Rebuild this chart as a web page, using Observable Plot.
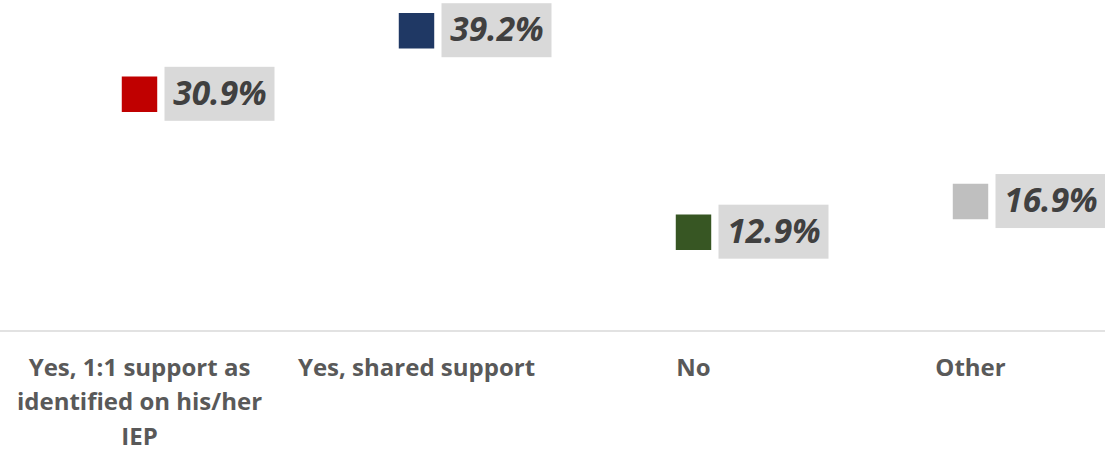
<!DOCTYPE html>
<html>
<head>
<meta charset="utf-8">
<script src="https://cdn.jsdelivr.net/npm/d3@7"></script>
<script src="https://cdn.jsdelivr.net/npm/@observablehq/plot@0.6"></script>
<style>
  html, body { margin: 0; padding: 0; background: #fff; }
</style>
</head>
<body>
<div id="chart"></div>
<script>
const categories = ["Yes, 1:1 support as identified on his/her IEP", "Yes, shared support", "No", "Other"];
const tickLabels = ["Yes, 1:1 support as\nidentified on his/her\nIEP", "Yes, shared support", "No", "Other"];
const values = [30.9, 39.2, 12.9, 16.9];
const colors = ["#c00000", "#1f3864", "#375623", "#bfbfbf"];

const rows = categories.map((c, i) => ({
  category: c,
  value: values[i],
  color: colors[i],
  label: values[i].toFixed(1) + "%",
  tick: tickLabels[i]
}));

const BOX_W = 110, BOX_H = 54, BOX_OFF = 25.5;

const chart = Plot.plot({
  width: 1105,
  height: 453,
  margin: 0,
  style: { fontFamily: "'Open Sans', sans-serif", background: "#fff" },
  x: { type: "point", domain: categories, range: [138.5, 969.5], padding: 0, axis: null },
  y: { domain: [0, 40], range: [330.5, 24.1], axis: null },
  marks: [
    Plot.ruleY([0], { stroke: "#d9d9d9", strokeWidth: 1.5 }),
    Plot.text(rows, {
      x: "category",
      y: () => 0,
      text: "tick",
      lineAnchor: "top",
      dy: 20,
      fontSize: 24,
      fontWeight: "bold",
      fill: "#595959",
      lineHeight: 1.44
    }),
    Plot.dot(rows, {
      x: "category",
      y: "value",
      symbol: "square",
      r: 20,
      fill: "color",
      stroke: "none"
    }),
    Plot.text(rows, {
      x: "category",
      y: "value",
      text: "label",
      dx: 80.5,
      textAnchor: "middle",
      lineAnchor: "middle",
      fontSize: 33.5,
      fontWeight: "bold",
      fontStyle: "italic",
      fill: "#404040",
      render: (index, scales, values, dimensions, context, next) => {
        const g = next(index, scales, values, dimensions, context);
        const wrap = d3.create("svg:g");
        for (const i of index) {
          wrap.append("rect")
            .attr("x", values.x[i] + BOX_OFF)
            .attr("y", values.y[i] - BOX_H / 2)
            .attr("width", BOX_W)
            .attr("height", BOX_H)
            .attr("fill", "#d9d9d9");
        }
        wrap.node().appendChild(g);
        return wrap.node();
      }
    })
  ]
});
document.getElementById("chart").appendChild(chart);
</script>
</body>
</html>
